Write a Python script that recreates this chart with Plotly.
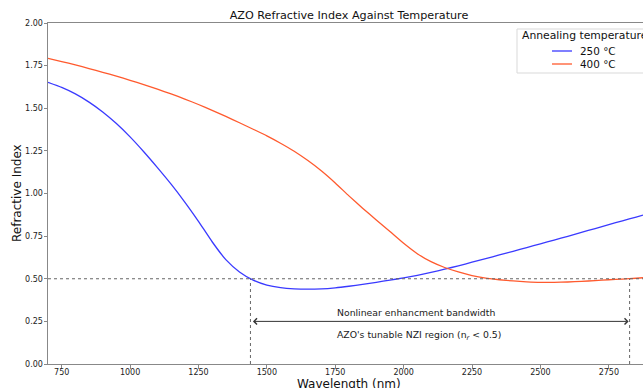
import plotly.graph_objects as go

# Data (wavelength in nm)
wavelength = [700, 750, 800, 850, 900, 950, 1000, 1050, 1100, 1150, 1200, 1250, 1300,
              1350, 1400, 1450, 1500, 1550, 1600, 1650, 1700, 1750, 1800, 1850, 1900,
              1950, 2000, 2050, 2100, 2150, 2200, 2250, 2300, 2350, 2400, 2450, 2500,
              2550, 2600, 2650, 2700, 2750, 2800, 2850, 2875]
n_250 = [1.652, 1.622, 1.584, 1.536, 1.478, 1.410, 1.332, 1.245, 1.152, 1.055, 0.950,
         0.837, 0.717, 0.612, 0.540, 0.492, 0.463, 0.448, 0.441, 0.439, 0.441, 0.447,
         0.456, 0.467, 0.479, 0.492, 0.505, 0.520, 0.537, 0.556, 0.576, 0.597, 0.618,
         0.640, 0.661, 0.683, 0.705, 0.727, 0.749, 0.772, 0.794, 0.817, 0.840, 0.862,
         0.873]
n_400 = [1.793, 1.774, 1.754, 1.733, 1.711, 1.688, 1.664, 1.639, 1.612, 1.584, 1.554,
         1.522, 1.488, 1.452, 1.415, 1.377, 1.338, 1.295, 1.248, 1.193, 1.132, 1.062,
         0.986, 0.914, 0.845, 0.777, 0.708, 0.647, 0.600, 0.566, 0.540, 0.519, 0.504,
         0.494, 0.487, 0.482, 0.479, 0.479, 0.481, 0.485, 0.489, 0.494, 0.498, 0.503,
         0.506]
series_names = ["250 °C", "400 °C"]
series_colors = ["#3a3aff", "#ff5a2e"]
legend_title = "Annealing temperature"

nzi_threshold = 0.5
nzi_bounds = [1440, 2826]
arrow_level = 0.25
label_x = 1750
label_top = "Nonlinear enhancment bandwidth"
label_bottom = "AZO's tunable NZI region (n<sub><i>r</i></sub> < 0.5)"
x_range = [700, 2875]
y_range = [0, 2.0]
x_ticks = [750, 1000, 1250, 1500, 1750, 2000, 2250, 2500, 2750]
y_ticks = [0.0, 0.25, 0.5, 0.75, 1.0, 1.25, 1.5, 1.75, 2.0]

FONT = "DejaVu Sans"
W, H = 643, 388
L, T, B = 48, 23, 24
PW, PH = W - L, H - T - B


def px(xp):
    return (xp - L) / PW


def py(yp):
    return (H - B - yp) / PH


fig = go.Figure()
for name, vals, col in zip(series_names, [n_250, n_400], series_colors):
    fig.add_trace(go.Scatter(x=wavelength, y=vals, mode="lines", name=name,
                             line=dict(color=col, width=1.3, shape="spline", smoothing=0.5)))

# threshold line
fig.add_shape(type="line", xref="x", yref="y", x0=x_range[0], x1=x_range[1],
              y0=nzi_threshold, y1=nzi_threshold,
              line=dict(color="#666666", width=1, dash="dot"))
for b in nzi_bounds:
    fig.add_shape(type="line", xref="x", yref="y", x0=b, x1=b, y0=0, y1=nzi_threshold,
                  line=dict(color="#666666", width=1, dash="dot"))

# double arrow
fig.add_annotation(x=nzi_bounds[1], y=arrow_level, ax=nzi_bounds[0], ay=arrow_level,
                   xref="x", yref="y", axref="x", ayref="y", text="",
                   showarrow=True, arrowhead=4, startarrowhead=4, arrowside="end+start",
                   arrowsize=1.2, startarrowsize=1.2, arrowwidth=1, arrowcolor="#333333",
                   standoff=1, startstandoff=1)
fig.add_annotation(x=label_x, y=0.30, xref="x", yref="y", text=label_top, showarrow=False,
                   xanchor="left", yanchor="middle", font=dict(family=FONT, size=9.3, color="#222"))
fig.add_annotation(x=label_x, y=0.17, xref="x", yref="y", text=label_bottom, showarrow=False,
                   xanchor="left", yanchor="middle", font=dict(family=FONT, size=9.3, color="#222"))

# axis titles
fig.add_annotation(x=px(349), y=py(384), xref="paper", yref="paper",
                   text="Wavelength (nm)", showarrow=False, xanchor="center", yanchor="middle",
                   font=dict(family=FONT, size=12, color="#111"))
fig.add_annotation(x=px(17), y=py(193), xref="paper", yref="paper",
                   text="Refractive Index", showarrow=False, textangle=-90,
                   xanchor="center", yanchor="middle",
                   font=dict(family=FONT, size=12, color="#111"))

# legend (matplotlib-style, compact)
fig.add_shape(type="rect", xref="paper", yref="paper", x0=px(517), x1=px(660),
              y0=py(73), y1=py(29), line=dict(color="#d9d9d9", width=1), fillcolor="white",
              layer="above")
fig.add_annotation(x=px(520), y=py(36), xref="paper", yref="paper", text=legend_title,
                   showarrow=False, xanchor="left", yanchor="middle",
                   font=dict(family=FONT, size=10.8, color="#111"))
for i, (name, col) in enumerate(zip(series_names, series_colors)):
    yy = py(51 + 13 * i)
    fig.add_shape(type="line", xref="paper", yref="paper", x0=px(552), x1=px(572),
                  y0=yy, y1=yy, line=dict(color=col, width=1.3), layer="above")
    fig.add_annotation(x=px(578), y=yy, xref="paper", yref="paper", text=name,
                       showarrow=False, xanchor="left", yanchor="middle",
                       font=dict(family=FONT, size=10.4, color="#111"))

axis_common = dict(showgrid=False, zeroline=False, showline=True, linecolor="#888888",
                   linewidth=1, mirror=True, ticks="outside", ticklen=3.5, tickcolor="#888888",
                   tickfont=dict(family=FONT, size=8, color="#222"))
fig.update_xaxes(range=x_range, tickvals=x_ticks, ticklabelstandoff=-3, **axis_common)
fig.update_yaxes(range=y_range, tickvals=y_ticks, tickformat=".2f", ticklabelstandoff=-1,
                 **axis_common)

fig.update_layout(
    width=W, height=H,
    margin=dict(l=L, r=0, t=T, b=B, autoexpand=False),
    plot_bgcolor="white", paper_bgcolor="white",
    title=dict(text="AZO Refractive Index Against Temperature", x=px(349),
               xref="paper", xanchor="center", y=1 - 15 / H, yanchor="middle",
               font=dict(family=FONT, size=11.2, color="#111")),
    showlegend=False,
)

fig.write_html("out.html")
